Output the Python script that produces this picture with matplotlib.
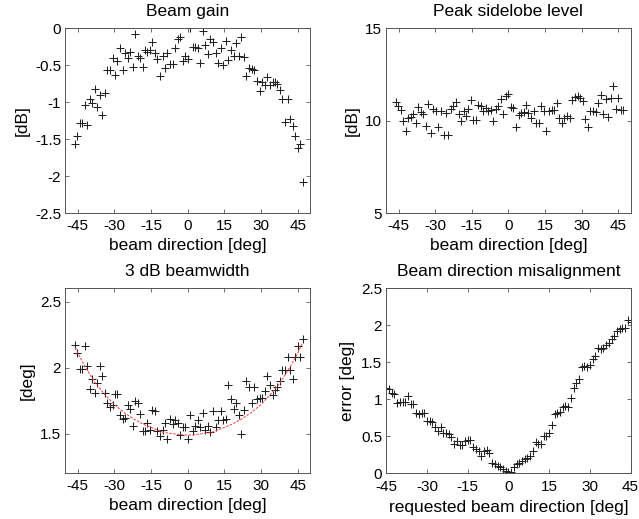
import numpy as np
import matplotlib
matplotlib.use("Agg")
import matplotlib.pyplot as plt

plt.rcParams['font.family'] = ['Liberation Sans', 'DejaVu Sans']
plt.rcParams['axes.unicode_minus'] = False

# requested steering directions [deg]
requested = np.arange(-45, 46)

# beam direction error [deg] for each requested direction
misalign = [1.15, 1.14, 1.08, 1.07, 0.95, 0.97, 0.97, 0.96, 1.04, 0.94,
            0.93, 0.81, 0.80, 0.81, 0.82, 0.71, 0.71, 0.70, 0.63, 0.57,
            0.62, 0.55, 0.55, 0.53, 0.49, 0.40, 0.43, 0.38, 0.38, 0.43,
            0.45, 0.45, 0.35, 0.33, 0.30, 0.23, 0.30, 0.31, 0.27, 0.14,
            0.13, 0.10, 0.09, 0.06, 0.03,
            0.02,
            0.02, 0.08, 0.13, 0.14, 0.17, 0.20, 0.21, 0.23, 0.30, 0.42,
            0.40, 0.40, 0.50, 0.51, 0.55, 0.65, 0.80, 0.82, 0.83, 0.90,
            0.91, 0.90, 1.02, 1.15, 1.22, 1.27, 1.44, 1.45, 1.43, 1.47,
            1.55, 1.58, 1.70, 1.68, 1.70, 1.74, 1.76, 1.82, 1.85, 1.92,
            1.95, 1.96, 1.97, 2.07, 2.05]

# beam gain [dB]
gain = [-1.56, -1.46, -1.28, -1.28, -1.04, -1.31, -0.96, -1.01, -0.82, -1.06,
        -0.90, -1.17, -0.87, -0.56, -0.56, -0.40, -0.63, -0.44, -0.27, -0.56,
        -0.34, -0.40, -0.32, -0.52, -0.08, -0.37, -0.40, -0.52, -0.30, -0.32,
        -0.29, -0.18, -0.34, -0.42, -0.64, -0.37, -0.54, -0.34, -0.48, -0.48,
        -0.26, -0.14, -0.12, -0.44, -0.37,
        -0.42,
        0.00, -0.25, -0.25, -0.27, -0.47, -0.03, -0.22, -0.35, -0.14, -0.19,
        -0.34, -0.47, -0.26, -0.50, -0.17, -0.43, -0.30, -0.37, -0.20, -0.38,
        -0.12, -0.39, -0.64, -0.54, -0.55, -0.57, -0.71, -0.85, -0.72, -0.76,
        -0.66, -0.76, -0.72, -0.72, -0.75, -0.84, -0.96, -1.26, -0.96, -1.23,
        -1.32, -1.45, -1.62, -1.57, -2.08]

# peak sidelobe level [dB]
sidelobe = [11.03, 10.82, 10.58, 9.97, 9.46, 10.14, 10.19, 10.37, 9.88, 10.76,
            10.46, 10.37, 9.74, 10.91, 9.32, 10.64, 10.51, 9.65, 10.51, 9.25,
            10.41, 9.23, 10.64, 10.82, 11.03, 10.37, 9.97, 10.51, 10.28, 10.64,
            11.12, 10.06, 10.06, 10.85, 10.78, 10.51, 10.69, 10.51, 10.58, 10.00,
            10.64, 10.82, 11.18, 10.37, 11.36,
            11.43,
            10.76, 10.69, 9.65, 10.33, 10.41, 10.45, 10.85, 10.41, 10.15, 10.51,
            9.88, 9.88, 10.82, 10.51, 9.46, 10.51, 10.58, 10.60, 10.94, 10.15,
            9.86, 10.15, 10.28, 10.15, 11.12, 11.30, 11.36, 11.25, 11.05, 10.10,
            9.65, 10.55, 10.55, 10.50, 10.94, 11.41, 10.37, 11.18, 10.19, 11.23,
            11.90, 10.64, 11.23, 10.58, 10.58]

# 3 dB beamwidth [deg]
beamwidth = [2.17, 2.11, 1.99, 1.99, 2.16, 2.01, 1.84, 1.91, 1.81, 1.88,
             2.01, 1.94, 1.81, 1.73, 1.70, 1.72, 1.80, 1.80, 1.64, 1.61,
             1.62, 1.72, 1.69, 1.56, 1.75, 1.73, 1.65, 1.52, 1.52, 1.58,
             1.53, 1.68, 1.67, 1.52, 1.48, 1.53, 1.58, 1.46, 1.61, 1.57,
             1.60, 1.58, 1.49, 1.55, 1.55,
             1.46,
             1.64, 1.52, 1.56, 1.60, 1.55, 1.66, 1.53, 1.56, 1.51, 1.67,
             1.55, 1.60, 1.67, 1.60, 1.61, 1.87, 1.76, 1.69, 1.73, 1.64,
             1.50, 1.68, 1.90, 1.85, 1.73, 1.85, 1.76, 1.77, 1.77, 1.82,
             1.94, 1.87, 1.79, 1.83, 1.85, 1.90, 1.98, 1.98, 2.08, 1.98,
             1.91, 2.08, 2.16, 2.08, 2.22]

# red reference curve in the beamwidth panel
fit_dir = [-46, -42, -38, -34, -30, -26, -22, -18, -14, -10, -6, -2, 0,
           2, 6, 10, 14, 18, 22, 26, 30, 34, 38, 42, 45, 47]
fit_bw = [2.15, 2.01, 1.89, 1.80, 1.72, 1.66, 1.61, 1.57, 1.54, 1.51, 1.50, 1.49, 1.49,
          1.49, 1.50, 1.51, 1.54, 1.57, 1.61, 1.66, 1.72, 1.80, 1.89, 2.01, 2.11, 2.19]

dir_ticks = [-45, -30, -15, 0, 15, 30, 45]

# actual beam direction: requested direction pushed outward by the error
actual = requested + np.sign(requested) * np.array(misalign)

fig = plt.figure(figsize=(6.39, 5.19), dpi=100)
W, H = 639, 519


def make_ax(x0, y0, x1, y1):
    return fig.add_axes([x0 / W, 1 - y1 / H, (x1 - x0) / W, (y1 - y0) / H])


def style(ax):
    ax.tick_params(direction='in', top=True, right=True, length=3, width=0.6,
                   labelsize=11, color='#555555')
    ax.tick_params(axis='x', pad=4)
    ax.tick_params(axis='y', pad=3)
    for s in ax.spines.values():
        s.set_linewidth(0.7)
        s.set_color('#555555')


mk = dict(linestyle='none', marker='+', color='#222222', ms=6, mew=0.75)
tfs = 12.5

# beam gain
ax1 = make_ax(65.3, 28.3, 310, 213.3)
ax1.plot(actual, gain, **mk)
ax1.set_xlim(-50, 50)
ax1.set_ylim(-2.5, 0)
ax1.set_xticks(dir_ticks)
ax1.set_yticks([-2.5, -2, -1.5, -1, -0.5, 0], ['-2.5', '-2', '-1.5', '-1', '-0.5', '0'])
ax1.set_title('Beam gain', fontsize=tfs, pad=9)
ax1.set_xlabel('beam direction [deg]', fontsize=tfs, labelpad=4)
ax1.set_ylabel('[dB]', fontsize=tfs, labelpad=4)
style(ax1)

# peak sidelobe level
ax2 = make_ax(386.3, 28.3, 630.5, 213.3)
ax2.plot(actual, sidelobe, **mk)
ax2.set_xlim(-50, 50)
ax2.set_ylim(5, 15)
ax2.set_xticks(dir_ticks)
ax2.set_yticks([5, 10, 15])
ax2.set_title('Peak sidelobe level', fontsize=tfs, pad=9)
ax2.set_xlabel('beam direction [deg]', fontsize=tfs, labelpad=4)
ax2.set_ylabel('[dB]', fontsize=tfs, labelpad=4)
style(ax2)

# 3 dB beamwidth
ax3 = make_ax(65.3, 288.3, 310, 473.3)
ax3.plot(actual, beamwidth, **mk)
ax3.plot(fit_dir, fit_bw, linestyle=(0, (2.5, 1.5)), color='#ff3333', lw=0.7)
ax3.set_xlim(-50, 50)
ax3.set_ylim(1.2, 2.6)
ax3.set_xticks(dir_ticks)
ax3.set_yticks([1.5, 2, 2.5], ['1.5', '2', '2.5'])
ax3.set_title('3 dB beamwidth', fontsize=tfs, pad=9)
ax3.set_xlabel('beam direction [deg]', fontsize=tfs, labelpad=4)
ax3.set_ylabel('[deg]', fontsize=tfs, labelpad=4)
style(ax3)

# beam direction misalignment
ax4 = make_ax(386.3, 288.3, 630.5, 473.3)
ax4.plot(requested, misalign, **mk)
ax4.set_xlim(-45, 45)
ax4.set_ylim(0, 2.5)
ax4.set_xticks(dir_ticks)
ax4.set_yticks([0, 0.5, 1, 1.5, 2, 2.5], ['0', '0.5', '1', '1.5', '2', '2.5'])
ax4.set_title('Beam direction misalignment', fontsize=tfs, pad=9)
ax4.set_xlabel('requested beam direction [deg]', fontsize=tfs, labelpad=4)
ax4.set_ylabel('error [deg]', fontsize=tfs, labelpad=4)
style(ax4)
ax4.tick_params(axis='x', pad=5)

fig.savefig('out.png', dpi=100)
